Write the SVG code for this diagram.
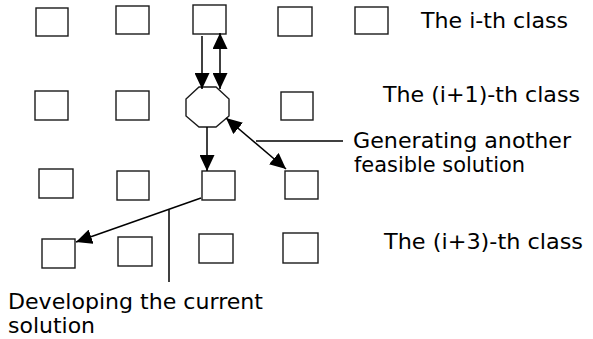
<svg xmlns="http://www.w3.org/2000/svg" width="593" height="339" viewBox="0 0 593 339">
<style>
.box{fill:#fff;stroke:#1a1a1a;stroke-width:1.4}
.ln{fill:none;stroke:#000;stroke-width:1.5}
.lbl{font-family:"DejaVu Sans","Verdana",sans-serif;font-size:21px;fill:#000}
</style>
<defs>
<marker id="ah" viewBox="0 0 16 15" refX="16" refY="7.5" markerWidth="16" markerHeight="15" markerUnits="userSpaceOnUse" orient="auto-start-reverse">
<path d="M0,0 L16,7.5 L0,15 Z" fill="#000"/>
</marker>
</defs>
<rect width="593" height="339" fill="#fff"/>
<g id="r1c1"><rect class="box" x="36" y="8" width="32" height="28"/></g>
<g id="r1c2"><rect class="box" x="116" y="6" width="33" height="28"/></g>
<g id="r1c3"><rect class="box" x="193" y="5" width="33" height="29"/></g>
<g id="r1c4"><rect class="box" x="278" y="7" width="34" height="29"/></g>
<g id="r1c5"><rect class="box" x="355" y="7" width="33" height="27"/></g>
<g id="r2c1"><rect class="box" x="35" y="91" width="33" height="29"/></g>
<g id="r2c2"><rect class="box" x="116" y="91" width="33" height="29"/></g>
<g id="oct"><polygon class="box" points="199,87 216,87 229,99 229,116 216,127 199,127 186,116 186,99"/></g>
<g id="r2c4"><rect class="box" x="281" y="92" width="32" height="28"/></g>
<g id="r3c1"><rect class="box" x="39" y="169" width="34" height="29"/></g>
<g id="r3c2"><rect class="box" x="117" y="171" width="32" height="29"/></g>
<g id="r3c3"><rect class="box" x="202" y="171" width="33" height="29"/></g>
<g id="r3c4"><rect class="box" x="285" y="171" width="33" height="28"/></g>
<g id="r4c1"><rect class="box" x="42" y="239" width="33" height="29"/></g>
<g id="r4c2"><rect class="box" x="118" y="237" width="34" height="29"/></g>
<g id="r4c3"><rect class="box" x="199" y="234" width="34" height="29"/></g>
<g id="r4c4"><rect class="box" x="283" y="233" width="35" height="30"/></g>
<g id="connectors">
<line class="ln" x1="202" y1="36" x2="202" y2="89" marker-end="url(#ah)"/>
<line class="ln" x1="220" y1="33" x2="220" y2="89" marker-start="url(#ah)" marker-end="url(#ah)"/>
<line class="ln" x1="207" y1="127" x2="207" y2="171" marker-end="url(#ah)"/>
<line class="ln" x1="226" y1="118" x2="286" y2="169" marker-start="url(#ah)" marker-end="url(#ah)"/>
<line class="ln" x1="201" y1="198" x2="76" y2="242" marker-end="url(#ah)"/>
<line class="ln" x1="169" y1="210" x2="169" y2="282"/>
<line class="ln" x1="256" y1="141" x2="343" y2="141"/>
</g>
<g id="labels">
<text class="lbl" x="421" y="28" textLength="147" lengthAdjust="spacingAndGlyphs">The i-th class</text>
<text class="lbl" x="383" y="102" textLength="197" lengthAdjust="spacingAndGlyphs">The (i+1)-th class</text>
<text class="lbl" x="353" y="148" textLength="218" lengthAdjust="spacingAndGlyphs">Generating another</text>
<text class="lbl" x="354" y="172" textLength="171" lengthAdjust="spacingAndGlyphs">feasible solution</text>
<text class="lbl" x="384" y="249" textLength="199" lengthAdjust="spacingAndGlyphs">The (i+3)-th class</text>
<text class="lbl" x="8" y="309" textLength="255" lengthAdjust="spacingAndGlyphs">Developing the current</text>
<text class="lbl" x="8" y="333" textLength="87" lengthAdjust="spacingAndGlyphs">solution</text>
</g>
</svg>
